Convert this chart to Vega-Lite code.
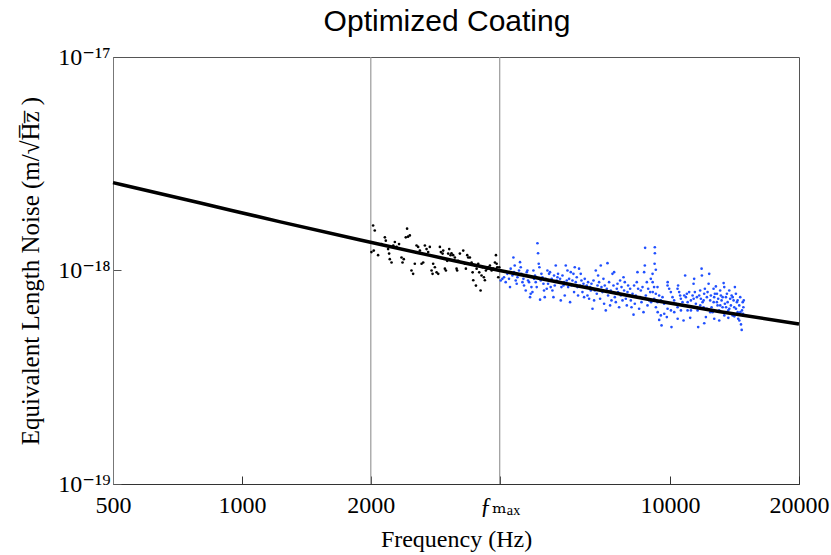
{
"$schema": "https://vega.github.io/schema/vega-lite/v6.json",
"width": 686, "height": 427,
"autosize": {"type": "none"},
"padding": {"left": 113, "top": 57, "right": 32, "bottom": 71},
"background": "white",
"title": {"text": "Optimized Coating", "font": "Liberation Sans", "fontSize": 30, "fontWeight": "normal", "color": "black", "offset": 8, "dx": -9, "frame": "group", "anchor": "middle"},
"config": {
  "view": {"stroke": "#555", "strokeWidth": 1},
  "axis": {"grid": false, "tickSize": -8, "tickColor": "#333", "domainColor": "#333", "labelFont": "Liberation Serif, DejaVu Serif", "labelFontSize": 24, "labelColor": "black", "titleFont": "Liberation Serif, DejaVu Serif", "titleFontSize": 24, "titleFontWeight": "normal", "titleColor": "black", "labelFlush": false, "labelOverlap": false},
  "axisX": {"labelPadding": 17, "titlePadding": 10},
  "axisY": {"domainColor": "#777", "tickColor": "#555", "labelPadding": 11, "titleFontSize": 25, "titlePadding": 14}
},
"datasets": {
  "rules": [{"f": 2000}, {"f": 4000}],
  "fit": [
    {"f": 500, "n": 2.58e-18}, {"f": 800, "n": 2.07e-18}, {"f": 1230, "n": 1.69e-18}, {"f": 1890, "n": 1.39e-18}, {"f": 2750, "n": 1.177e-18}, {"f": 4000, "n": 1.0e-18}, {"f": 5850, "n": 0.86e-18}, {"f": 9000, "n": 0.73e-18}, {"f": 13100, "n": 0.641e-18}, {"f": 20000, "n": 0.562e-18}
  ],
  "pts": [
{"f":2025,"n":1.625e-18,"g":"a"},{"f":2043,"n":1.54e-18,"g":"a"},{"f":2007,"n":1.22e-18,"g":"a"},{"f":2032,"n":1.24e-18,"g":"a"},{"f":2080,"n":1.18e-18,"g":"a"},{"f":2119,"n":1.33e-18,"g":"a"},{"f":2157,"n":1.43e-18,"g":"a"},{"f":2168,"n":1.38e-18,"g":"a"},{"f":2195,"n":1.26e-18,"g":"a"},{"f":2207,"n":1.2e-18,"g":"a"},{"f":2215,"n":1.13e-18,"g":"a"},{"f":2236,"n":1.09e-18,"g":"a"},{"f":2257,"n":1.31e-18,"g":"a"},{"f":2276,"n":1.36e-18,"g":"a"},{"f":2297,"n":1.29e-18,"g":"a"},{"f":2328,"n":1.33e-18,"g":"a"},{"f":2359,"n":1.15e-18,"g":"a"},{"f":2372,"n":1.09e-18,"g":"a"},{"f":2388,"n":1.13e-18,"g":"a"},{"f":2414,"n":1.43e-18,"g":"a"},{"f":2431,"n":1.57e-18,"g":"a"},{"f":2444,"n":1.44e-18,"g":"a"},{"f":2467,"n":1.46e-18,"g":"a"},{"f":2489,"n":1.0e-18,"g":"a"},{"f":2511,"n":0.965e-18,"g":"a"},{"f":2534,"n":1.075e-18,"g":"a"},{"f":2558,"n":1.31e-18,"g":"a"},{"f":2580,"n":1.29e-18,"g":"a"},{"f":2604,"n":1.24e-18,"g":"a"},{"f":2628,"n":1.075e-18,"g":"a"},{"f":2651,"n":1.09e-18,"g":"a"},{"f":2675,"n":1.31e-18,"g":"a"},{"f":2699,"n":1.26e-18,"g":"a"},{"f":2723,"n":1.22e-18,"g":"a"},{"f":2747,"n":1.29e-18,"g":"a"},{"f":2773,"n":1.0e-18,"g":"a"},{"f":2788,"n":0.965e-18,"g":"a"},{"f":2797,"n":1.075e-18,"g":"a"},{"f":2823,"n":1.036e-18,"g":"a"},{"f":2849,"n":0.98e-18,"g":"a"},{"f":2874,"n":0.965e-18,"g":"a"},{"f":2900,"n":1.29e-18,"g":"a"},{"f":2915,"n":1.22e-18,"g":"a"},{"f":2942,"n":1.2e-18,"g":"a"},{"f":2952,"n":1.24e-18,"g":"a"},{"f":2979,"n":1.02e-18,"g":"a"},{"f":2995,"n":1.0e-18,"g":"a"},{"f":3016,"n":1.11e-18,"g":"a"},{"f":3032,"n":1.2e-18,"g":"a"},{"f":3049,"n":1.26e-18,"g":"a"},{"f":3071,"n":1.18e-18,"g":"a"},{"f":3087,"n":1.205e-18,"g":"a"},{"f":3115,"n":1.18e-18,"g":"a"},{"f":3143,"n":1.15e-18,"g":"a"},{"f":3172,"n":1.02e-18,"g":"a"},{"f":3182,"n":1.0e-18,"g":"a"},{"f":3199,"n":1.11e-18,"g":"a"},{"f":3229,"n":1.2e-18,"g":"a"},{"f":3258,"n":1.09e-18,"g":"a"},{"f":3288,"n":1.24e-18,"g":"a"},{"f":3317,"n":1.075e-18,"g":"a"},{"f":3335,"n":1.02e-18,"g":"a"},{"f":3359,"n":1.18e-18,"g":"a"},{"f":3377,"n":1.15e-18,"g":"a"},{"f":3408,"n":1.15e-18,"g":"a"},{"f":3439,"n":1.09e-18,"g":"a"},{"f":3458,"n":0.98e-18,"g":"a"},{"f":3470,"n":0.9e-18,"g":"a"},{"f":3501,"n":1.055e-18,"g":"a"},{"f":3520,"n":0.85e-18,"g":"a"},{"f":3533,"n":1.02e-18,"g":"a"},{"f":3564,"n":1.075e-18,"g":"a"},{"f":3583,"n":0.98e-18,"g":"a"},{"f":3609,"n":0.806e-18,"g":"a"},{"f":3628,"n":0.947e-18,"g":"a"},{"f":3648,"n":1.036e-18,"g":"a"},{"f":3674,"n":0.93e-18,"g":"a"},{"f":3694,"n":0.9e-18,"g":"a"},{"f":3714,"n":1.0e-18,"g":"a"},{"f":3740,"n":1.02e-18,"g":"a"},{"f":3760,"n":1.036e-18,"g":"a"},{"f":3795,"n":1.055e-18,"g":"a"},{"f":3830,"n":1.0e-18,"g":"a"},{"f":3863,"n":1.02e-18,"g":"a"},{"f":3899,"n":1.09e-18,"g":"a"},{"f":3920,"n":1.18e-18,"g":"a"},{"f":3935,"n":1.075e-18,"g":"a"},{"f":3948,"n":1.036e-18,"g":"a"},{"f":3969,"n":0.93e-18,"g":"a"},{"f":3990,"n":1.036e-18,"g":"a"},
{"f":4022,"n":0.898e-18,"g":"b"},{"f":4058,"n":0.914e-18,"g":"b"},{"f":4094,"n":0.93e-18,"g":"b"},{"f":4131,"n":0.882e-18,"g":"b"},{"f":4168,"n":0.965e-18,"g":"b"},{"f":4205,"n":0.914e-18,"g":"b"},{"f":4228,"n":0.836e-18,"g":"b"},{"f":4244,"n":1.02e-18,"g":"b"},{"f":4283,"n":0.947e-18,"g":"b"},{"f":4306,"n":1.15e-18,"g":"b"},{"f":4320,"n":0.982e-18,"g":"b"},{"f":4336,"n":1.055e-18,"g":"b"},{"f":4360,"n":0.898e-18,"g":"b"},{"f":4383,"n":0.867e-18,"g":"b"},{"f":4400,"n":0.93e-18,"g":"b"},{"f":4438,"n":1.0e-18,"g":"b"},{"f":4462,"n":1.094e-18,"g":"b"},{"f":4479,"n":1.036e-18,"g":"b"},{"f":4496,"n":0.965e-18,"g":"b"},{"f":4520,"n":0.882e-18,"g":"b"},{"f":4544,"n":0.914e-18,"g":"b"},{"f":4559,"n":0.851e-18,"g":"b"},{"f":4584,"n":0.947e-18,"g":"b"},{"f":4601,"n":0.806e-18,"g":"b"},{"f":4626,"n":0.982e-18,"g":"b"},{"f":4643,"n":1.0e-18,"g":"b"},{"f":4658,"n":0.898e-18,"g":"b"},{"f":4684,"n":0.882e-18,"g":"b"},{"f":4709,"n":0.75e-18,"g":"b"},{"f":4726,"n":0.778e-18,"g":"b"},{"f":4744,"n":0.836e-18,"g":"b"},{"f":4770,"n":0.792e-18,"g":"b"},{"f":4795,"n":1.0e-18,"g":"b"},{"f":4811,"n":0.914e-18,"g":"b"},{"f":4837,"n":0.947e-18,"g":"b"},{"f":4855,"n":0.882e-18,"g":"b"},{"f":4881,"n":0.836e-18,"g":"b"},{"f":4900,"n":1.342e-18,"g":"b"},{"f":4916,"n":1.205e-18,"g":"b"},{"f":4934,"n":1.075e-18,"g":"b"},{"f":4952,"n":1.036e-18,"g":"b"},{"f":4970,"n":0.73e-18,"g":"b"},{"f":4988,"n":0.898e-18,"g":"b"},{"f":5006,"n":0.965e-18,"g":"b"},{"f":5033,"n":0.93e-18,"g":"b"},{"f":5061,"n":0.867e-18,"g":"b"},{"f":5077,"n":0.806e-18,"g":"b"},{"f":5096,"n":0.75e-18,"g":"b"},{"f":5124,"n":0.914e-18,"g":"b"},{"f":5151,"n":0.821e-18,"g":"b"},{"f":5170,"n":1.0e-18,"g":"b"},{"f":5188,"n":0.867e-18,"g":"b"},{"f":5216,"n":0.965e-18,"g":"b"},{"f":5243,"n":0.982e-18,"g":"b"},{"f":5262,"n":0.836e-18,"g":"b"},{"f":5291,"n":0.914e-18,"g":"b"},{"f":5311,"n":0.806e-18,"g":"b"},{"f":5340,"n":0.75e-18,"g":"b"},{"f":5358,"n":0.947e-18,"g":"b"},{"f":5378,"n":0.851e-18,"g":"b"},{"f":5407,"n":1.055e-18,"g":"b"},{"f":5436,"n":0.898e-18,"g":"b"},{"f":5456,"n":0.93e-18,"g":"b"},{"f":5474,"n":0.965e-18,"g":"b"},{"f":5504,"n":0.882e-18,"g":"b"},{"f":5534,"n":0.914e-18,"g":"b"},{"f":5555,"n":0.724e-18,"g":"b"},{"f":5575,"n":0.836e-18,"g":"b"},{"f":5606,"n":0.947e-18,"g":"b"},{"f":5636,"n":0.851e-18,"g":"b"},{"f":5655,"n":0.882e-18,"g":"b"},{"f":5675,"n":0.764e-18,"g":"b"},{"f":5706,"n":1.055e-18,"g":"b"},{"f":5737,"n":0.898e-18,"g":"b"},{"f":5758,"n":1.0e-18,"g":"b"},{"f":5779,"n":0.836e-18,"g":"b"},{"f":5810,"n":0.914e-18,"g":"b"},{"f":5840,"n":0.711e-18,"g":"b"},{"f":5862,"n":0.982e-18,"g":"b"},{"f":5884,"n":0.851e-18,"g":"b"},{"f":5915,"n":0.898e-18,"g":"b"},{"f":5947,"n":0.965e-18,"g":"b"},{"f":5967,"n":0.792e-18,"g":"b"},{"f":5989,"n":1.036e-18,"g":"b"},{"f":6021,"n":0.882e-18,"g":"b"},{"f":6054,"n":0.93e-18,"g":"b"},{"f":6076,"n":0.836e-18,"g":"b"},{"f":6096,"n":0.764e-18,"g":"b"},{"f":6129,"n":1.02e-18,"g":"b"},{"f":6162,"n":0.851e-18,"g":"b"},{"f":6185,"n":0.965e-18,"g":"b"},{"f":6208,"n":0.898e-18,"g":"b"},{"f":6242,"n":0.792e-18,"g":"b"},{"f":6276,"n":0.867e-18,"g":"b"},{"f":6297,"n":0.75e-18,"g":"b"},{"f":6320,"n":0.914e-18,"g":"b"},{"f":6354,"n":0.836e-18,"g":"b"},{"f":6389,"n":0.851e-18,"g":"b"},{"f":6413,"n":0.764e-18,"g":"b"},{"f":6434,"n":0.882e-18,"g":"b"},{"f":6469,"n":0.737e-18,"g":"b"},{"f":6504,"n":0.836e-18,"g":"b"},{"f":6528,"n":0.806e-18,"g":"b"},{"f":6552,"n":0.867e-18,"g":"b"},{"f":6588,"n":0.662e-18,"g":"b"},{"f":6624,"n":0.898e-18,"g":"b"},{"f":6645,"n":0.724e-18,"g":"b"},{"f":6670,"n":0.806e-18,"g":"b"},{"f":6706,"n":1.0e-18,"g":"b"},{"f":6742,"n":0.778e-18,"g":"b"},{"f":6768,"n":0.851e-18,"g":"b"},{"f":6790,"n":0.947e-18,"g":"b"},{"f":6826,"n":0.882e-18,"g":"b"},{"f":6863,"n":0.737e-18,"g":"b"},{"f":6888,"n":1.055e-18,"g":"b"},{"f":6914,"n":0.836e-18,"g":"b"},{"f":6951,"n":0.792e-18,"g":"b"},{"f":6988,"n":0.914e-18,"g":"b"},{"f":7012,"n":0.699e-18,"g":"b"},{"f":7038,"n":0.851e-18,"g":"b"},{"f":7076,"n":0.65e-18,"g":"b"},{"f":7115,"n":0.821e-18,"g":"b"},{"f":7141,"n":1.082e-18,"g":"b"},{"f":7164,"n":0.764e-18,"g":"b"},{"f":7203,"n":0.882e-18,"g":"b"},{"f":7242,"n":0.686e-18,"g":"b"},{"f":7268,"n":0.806e-18,"g":"b"},{"f":7296,"n":0.724e-18,"g":"b"},{"f":7335,"n":0.965e-18,"g":"b"},{"f":7375,"n":0.851e-18,"g":"b"},{"f":7400,"n":0.982e-18,"g":"b"},{"f":7428,"n":0.75e-18,"g":"b"},{"f":7468,"n":0.711e-18,"g":"b"},{"f":7508,"n":0.821e-18,"g":"b"},{"f":7536,"n":0.867e-18,"g":"b"},{"f":7560,"n":0.792e-18,"g":"b"},{"f":7602,"n":0.673e-18,"g":"b"},{"f":7643,"n":0.898e-18,"g":"b"},{"f":7672,"n":0.764e-18,"g":"b"},{"f":7701,"n":0.836e-18,"g":"b"},{"f":7742,"n":0.724e-18,"g":"b"},{"f":7784,"n":0.93e-18,"g":"b"},{"f":7809,"n":0.806e-18,"g":"b"},{"f":7838,"n":0.882e-18,"g":"b"},{"f":7881,"n":0.737e-18,"g":"b"},{"f":7923,"n":0.686e-18,"g":"b"},{"f":7953,"n":0.792e-18,"g":"b"},{"f":7979,"n":0.851e-18,"g":"b"},{"f":8022,"n":0.764e-18,"g":"b"},{"f":8066,"n":0.821e-18,"g":"b"},{"f":8096,"n":0.724e-18,"g":"b"},{"f":8127,"n":0.673e-18,"g":"b"},{"f":8171,"n":0.778e-18,"g":"b"},{"f":8215,"n":0.621e-18,"g":"b"},{"f":8240,"n":0.851e-18,"g":"b"},{"f":8271,"n":0.699e-18,"g":"b"},{"f":8315,"n":0.764e-18,"g":"b"},{"f":8360,"n":0.882e-18,"g":"b"},{"f":8391,"n":0.982e-18,"g":"b"},{"f":8421,"n":0.821e-18,"g":"b"},{"f":8466,"n":0.662e-18,"g":"b"},{"f":8512,"n":0.75e-18,"g":"b"},{"f":8543,"n":0.806e-18,"g":"b"},{"f":8575,"n":0.711e-18,"g":"b"},{"f":8621,"n":0.836e-18,"g":"b"},{"f":8668,"n":0.638e-18,"g":"b"},{"f":8697,"n":0.982e-18,"g":"b"},{"f":8729,"n":1.055e-18,"g":"b"},{"f":8743,"n":1.277e-18,"g":"b"},{"f":8776,"n":0.764e-18,"g":"b"},{"f":8824,"n":0.882e-18,"g":"b"},{"f":8856,"n":0.686e-18,"g":"b"},{"f":8888,"n":0.821e-18,"g":"b"},{"f":8937,"n":0.724e-18,"g":"b"},{"f":8985,"n":0.792e-18,"g":"b"},
{"f":9211,"n":1.285e-18,"g":"b"},{"f":9215,"n":1.205e-18,"g":"b"},{"f":9200,"n":1.075e-18,"g":"b"},{"f":9261,"n":1.008e-18,"g":"b"},{"f":9100,"n":0.965e-18,"g":"b"},{"f":9015,"n":0.914e-18,"g":"b"},{"f":9105,"n":0.882e-18,"g":"b"},{"f":9175,"n":0.836e-18,"g":"b"},{"f":9345,"n":0.836e-18,"g":"b"},{"f":9110,"n":0.792e-18,"g":"b"},{"f":9261,"n":0.778e-18,"g":"b"},{"f":9428,"n":0.764e-18,"g":"b"},{"f":9600,"n":0.75e-18,"g":"b"},{"f":9030,"n":0.711e-18,"g":"b"},{"f":9180,"n":0.737e-18,"g":"b"},{"f":9350,"n":0.711e-18,"g":"b"},{"f":9513,"n":0.724e-18,"g":"b"},{"f":9685,"n":0.699e-18,"g":"b"},{"f":9864,"n":0.851e-18,"g":"b"},{"f":9870,"n":0.882e-18,"g":"b"},{"f":9950,"n":0.821e-18,"g":"b"},{"f":10040,"n":0.792e-18,"g":"b"},{"f":10130,"n":0.75e-18,"g":"b"},{"f":10220,"n":0.724e-18,"g":"b"},{"f":10313,"n":0.699e-18,"g":"b"},{"f":10408,"n":0.821e-18,"g":"b"},{"f":10440,"n":0.851e-18,"g":"b"},{"f":10500,"n":0.792e-18,"g":"b"},{"f":10555,"n":0.764e-18,"g":"b"},{"f":10595,"n":0.737e-18,"g":"b"},{"f":10690,"n":0.711e-18,"g":"b"},{"f":10785,"n":0.686e-18,"g":"b"},{"f":10843,"n":0.947e-18,"g":"b"},{"f":10885,"n":0.75e-18,"g":"b"},{"f":10945,"n":0.778e-18,"g":"b"},{"f":10985,"n":0.65e-18,"g":"b"},{"f":11080,"n":0.792e-18,"g":"b"},{"f":11183,"n":0.724e-18,"g":"b"},{"f":11285,"n":0.764e-18,"g":"b"},{"f":11345,"n":0.867e-18,"g":"b"},{"f":11382,"n":0.914e-18,"g":"b"},{"f":11424,"n":0.792e-18,"g":"b"},{"f":11486,"n":0.699e-18,"g":"b"},{"f":11548,"n":0.75e-18,"g":"b"},{"f":11592,"n":0.65e-18,"g":"b"},{"f":11630,"n":0.543e-18,"g":"b"},{"f":11693,"n":0.764e-18,"g":"b"},{"f":11755,"n":0.806e-18,"g":"b"},{"f":11800,"n":0.737e-18,"g":"b"},{"f":11845,"n":1.02e-18,"g":"b"},{"f":11864,"n":0.947e-18,"g":"b"},{"f":11908,"n":0.711e-18,"g":"b"},{"f":11972,"n":0.673e-18,"g":"b"},{"f":12010,"n":0.778e-18,"g":"b"},{"f":12056,"n":0.821e-18,"g":"b"},{"f":12121,"n":0.605e-18,"g":"b"},{"f":12186,"n":0.75e-18,"g":"b"},{"f":12232,"n":0.792e-18,"g":"b"},{"f":12300,"n":0.867e-18,"g":"b"},{"f":12340,"n":0.965e-18,"g":"b"},{"f":12405,"n":0.724e-18,"g":"b"},{"f":12452,"n":0.764e-18,"g":"b"},{"f":12500,"n":0.673e-18,"g":"b"},{"f":12565,"n":0.638e-18,"g":"b"},{"f":12633,"n":0.821e-18,"g":"b"},{"f":12675,"n":0.75e-18,"g":"b"},{"f":12722,"n":0.778e-18,"g":"b"},{"f":12790,"n":0.842e-18,"g":"b"},{"f":12860,"n":0.711e-18,"g":"b"},{"f":12907,"n":0.686e-18,"g":"b"},{"f":12950,"n":0.737e-18,"g":"b"},{"f":13020,"n":0.65e-18,"g":"b"},{"f":13090,"n":0.806e-18,"g":"b"},{"f":13140,"n":0.764e-18,"g":"b"},{"f":13190,"n":0.724e-18,"g":"b"},{"f":13260,"n":0.673e-18,"g":"b"},{"f":13335,"n":0.873e-18,"g":"b"},{"f":13380,"n":0.836e-18,"g":"b"},{"f":13426,"n":0.699e-18,"g":"b"},{"f":13500,"n":0.75e-18,"g":"b"},{"f":13573,"n":0.778e-18,"g":"b"},{"f":13625,"n":0.711e-18,"g":"b"},{"f":13670,"n":0.65e-18,"g":"b"},{"f":13745,"n":0.806e-18,"g":"b"},{"f":13815,"n":0.737e-18,"g":"b"},{"f":13868,"n":0.686e-18,"g":"b"},{"f":13920,"n":0.764e-18,"g":"b"},{"f":13995,"n":0.616e-18,"g":"b"},{"f":14070,"n":0.724e-18,"g":"b"},{"f":14120,"n":0.673e-18,"g":"b"},{"f":14168,"n":0.836e-18,"g":"b"},{"f":14245,"n":0.778e-18,"g":"b"},{"f":14322,"n":0.711e-18,"g":"b"},{"f":14378,"n":0.638e-18,"g":"b"},{"f":14425,"n":0.594e-18,"g":"b"},{"f":14505,"n":0.686e-18,"g":"b"},{"f":14580,"n":0.75e-18,"g":"b"},{"f":14640,"n":0.559e-18,"g":"b"},{"f":14695,"n":0.527e-18,"g":"b"},{"f":14720,"n":0.65e-18,"g":"b"},{"f":14775,"n":0.711e-18,"g":"b"},{"f":14800,"n":0.627e-18,"g":"b"},{"f":14830,"n":0.673e-18,"g":"b"},{"f":14860,"n":0.724e-18,"g":"b"},{"f":14590,"n":0.638e-18,"g":"b"},{"f":14380,"n":0.724e-18,"g":"b"},{"f":14250,"n":0.662e-18,"g":"b"},{"f":14000,"n":0.75e-18,"g":"b"},{"f":13750,"n":0.662e-18,"g":"b"},{"f":13510,"n":0.673e-18,"g":"b"},{"f":13265,"n":0.75e-18,"g":"b"},{"f":13095,"n":0.686e-18,"g":"b"},{"f":12865,"n":0.778e-18,"g":"b"},{"f":12640,"n":0.711e-18,"g":"b"},{"f":12410,"n":0.638e-18,"g":"b"},{"f":12190,"n":0.662e-18,"g":"b"},{"f":11975,"n":0.724e-18,"g":"b"},{"f":11760,"n":0.686e-18,"g":"b"},{"f":11550,"n":0.673e-18,"g":"b"},{"f":11350,"n":0.737e-18,"g":"b"},{"f":11185,"n":0.65e-18,"g":"b"},{"f":10990,"n":0.711e-18,"g":"b"},{"f":10790,"n":0.764e-18,"g":"b"},{"f":10600,"n":0.65e-18,"g":"b"},{"f":10410,"n":0.673e-18,"g":"b"},{"f":10225,"n":0.638e-18,"g":"b"},{"f":10045,"n":0.65e-18,"g":"b"},{"f":9865,"n":0.662e-18,"g":"b"},{"f":9690,"n":0.627e-18,"g":"b"},{"f":9515,"n":0.616e-18,"g":"b"},{"f":9355,"n":0.638e-18,"g":"b"},{"f":9265,"n":0.673e-18,"g":"b"},{"f":9430,"n":0.587e-18,"g":"b"},{"f":9550,"n":0.553e-18,"g":"b"},{"f":10075,"n":0.543e-18,"g":"b"},{"f":9825,"n":0.605e-18,"g":"b"},{"f":10415,"n":0.594e-18,"g":"b"},{"f":10750,"n":0.583e-18,"g":"b"},{"f":11140,"n":0.6e-18,"g":"b"},{"f":12015,"n":0.566e-18,"g":"b"},{"f":12680,"n":0.594e-18,"g":"b"},{"f":13025,"n":0.583e-18,"g":"b"},{"f":13385,"n":0.616e-18,"g":"b"},{"f":13675,"n":0.6e-18,"g":"b"},{"f":14125,"n":0.61e-18,"g":"b"},{"f":14510,"n":0.583e-18,"g":"b"}
  ]
},
"layer": [
  {
    "data": {"name": "rules"},
    "mark": {"type": "rule", "color": "#9a9a9a", "strokeWidth": 1.2},
    "encoding": {
      "x": {"field": "f", "type": "quantitative", "scale": {"type": "log", "domain": [500, 20000]},
        "axis": {"title": "Frequency (Hz)", "values": [500, 1000, 2000, 4000, 10000, 20000], "format": "d", "labelExpr": "datum.value == 4000 ? 'ƒₘₐₓ' : datum.label"}}
    }
  },
  {
    "data": {"name": "pts"},
    "mark": {"type": "circle", "size": 7, "opacity": 1},
    "encoding": {
      "x": {"field": "f", "type": "quantitative", "scale": {"type": "log", "domain": [500, 20000]},
        "axis": {"title": "Frequency (Hz)", "values": [500, 1000, 2000, 4000, 10000, 20000], "format": "d", "labelExpr": "datum.value == 4000 ? 'ƒₘₐₓ' : datum.label"}},
      "y": {"field": "n", "type": "quantitative", "scale": {"type": "log", "domain": [1e-19, 1e-17]},
        "axis": {"title": "Equivalent Length Noise (m/√H̅z̅ )", "values": [1e-19, 1e-18, 1e-17], "labelExpr": "datum.value < 5e-19 ? '10⁻¹⁹' : (datum.value < 5e-18 ? '10⁻¹⁸' : '10⁻¹⁷')"}},
      "color": {"field": "g", "type": "nominal", "scale": {"domain": ["a", "b"], "range": ["#000000", "#2050ff"]}, "legend": null}
    }
  },
  {
    "data": {"name": "fit"},
    "mark": {"type": "line", "color": "black", "strokeWidth": 3.5, "interpolate": "monotone"},
    "encoding": {
      "x": {"field": "f", "type": "quantitative", "scale": {"type": "log", "domain": [500, 20000]},
        "axis": {"title": "Frequency (Hz)", "values": [500, 1000, 2000, 4000, 10000, 20000], "format": "d", "labelExpr": "datum.value == 4000 ? 'ƒₘₐₓ' : datum.label"}},
      "y": {"field": "n", "type": "quantitative", "scale": {"type": "log", "domain": [1e-19, 1e-17]},
        "axis": {"title": "Equivalent Length Noise (m/√H̅z̅ )", "values": [1e-19, 1e-18, 1e-17], "labelExpr": "datum.value < 5e-19 ? '10⁻¹⁹' : (datum.value < 5e-18 ? '10⁻¹⁸' : '10⁻¹⁷')"}}
    }
  }
]
}
